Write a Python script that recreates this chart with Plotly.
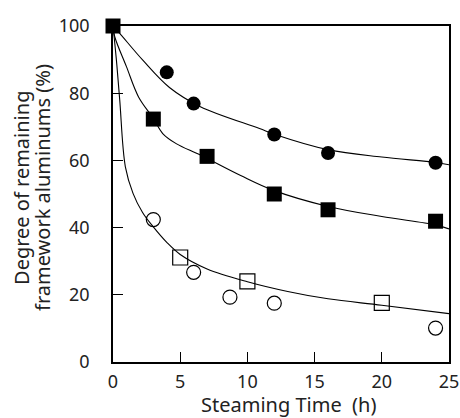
import plotly.graph_objects as go

# Markers
fc_x = [0, 4, 6, 12, 16, 24]
fc_y = [100, 86.2, 76.9, 67.7, 62.2, 59.3]
fs_x = [0, 3, 7, 12, 16, 24]
fs_y = [100, 72.3, 61.2, 50.0, 45.3, 41.9]
oc_x = [3, 6, 8.7, 12, 24]
oc_y = [42.4, 26.7, 19.3, 17.5, 10.1]
os_x = [5, 10, 20]
os_y = [31.1, 24.0, 17.6]

# Fitted curves
c1_x = [0, 0.5, 2.2, 4.2, 6.5, 10.9, 12, 16, 20, 24, 25]
c1_y = [100, 97.8, 89.9, 81.7, 76.0, 69.5, 67.8, 63.2, 61.0, 59.4, 58.7]
c2_x = [0, 0.13, 1.0, 1.9, 3, 3.7, 4.7, 6.5, 9.5, 12, 16, 20, 24, 25]
c2_y = [100, 96.8, 87.9, 78.9, 72.5, 68.0, 65.0, 61.6, 55.5, 51.0, 46.3, 43.3, 40.8, 39.6]
c3_x = [0, 0.25, 0.5, 0.92, 1.49, 2.2, 3.0, 4, 5, 7, 10, 13, 16, 20, 25]
c3_y = [100, 90, 78, 58.1, 50.2, 44.5, 40.2, 35.6, 32.0, 27.7, 23.9, 21.0, 18.8, 16.9, 14.4]

x_ticks = [0, 5, 10, 15, 20, 25]
y_ticks = [0, 20, 40, 60, 80, 100]

x_title = "Steaming Time\u00a0\u00a0(h)"
y_title_1 = "Degree of remaining"
y_title_2 = "framework aluminums (%)"

fig = go.Figure()
for cx, cy in [(c1_x, c1_y), (c2_x, c2_y), (c3_x, c3_y)]:
    fig.add_trace(go.Scatter(x=cx, y=cy, mode="lines", line=dict(color="black", width=1.1, shape="spline"),
                             showlegend=False, cliponaxis=False, hoverinfo="skip"))

fig.add_trace(go.Scatter(x=oc_x, y=oc_y, mode="markers", cliponaxis=False, showlegend=False,
                         marker=dict(symbol="circle-open", size=14, color="black", line=dict(width=1.2))))
fig.add_trace(go.Scatter(x=os_x, y=os_y, mode="markers", cliponaxis=False, showlegend=False,
                         marker=dict(symbol="square-open", size=15, color="black", line=dict(width=1.2))))
fig.add_trace(go.Scatter(x=fc_x, y=fc_y, mode="markers", cliponaxis=False, showlegend=False,
                         marker=dict(symbol="circle", size=14, color="black")))
fig.add_trace(go.Scatter(x=fs_x, y=fs_y, mode="markers", cliponaxis=False, showlegend=False,
                         marker=dict(symbol="square", size=15, color="black")))

tick_font = dict(family="Noto Sans, DejaVu Sans, sans-serif", size=18, color="#222")
title_font = dict(family="Noto Sans, DejaVu Sans, sans-serif", size=20, color="#222")

fig.update_layout(
    width=460, height=418,
    margin=dict(l=113, r=11, t=26, b=56),
    paper_bgcolor="white", plot_bgcolor="white",
    font=tick_font,
    xaxis=dict(range=[0, 25], tickvals=x_ticks, ticks="inside", ticklen=10, tickcolor="black",
               showline=True, linecolor="black", linewidth=1.5, mirror=True, showgrid=False, zeroline=False,
               tickfont=tick_font, ticklabelstandoff=3, automargin=False),
    yaxis=dict(range=[0, 100], tickvals=y_ticks, ticks="inside", ticklen=10, tickcolor="black",
               showline=True, linecolor="black", linewidth=1.5, mirror=True, showgrid=False, zeroline=False,
               tickfont=tick_font, ticklabelstandoff=18, automargin=False),
    annotations=[
        dict(text=x_title, xref="paper", yref="paper", x=0.521, y=0, xanchor="center", yanchor="middle",
             yshift=-42, showarrow=False, font=title_font),
        dict(text=y_title_1, xref="paper", yref="paper", x=0, y=0.518, xanchor="center", yanchor="middle",
             xshift=-91, textangle=-90, showarrow=False, font=title_font),
        dict(text=y_title_2, xref="paper", yref="paper", x=0, y=0.518, xanchor="center", yanchor="middle",
             xshift=-70, textangle=-90, showarrow=False, font=title_font),
    ],
)
fig.write_html("out.html", config={"displayModeBar": False},
               post_script="document.body.style.margin='0';document.body.style.overflow='hidden';")
